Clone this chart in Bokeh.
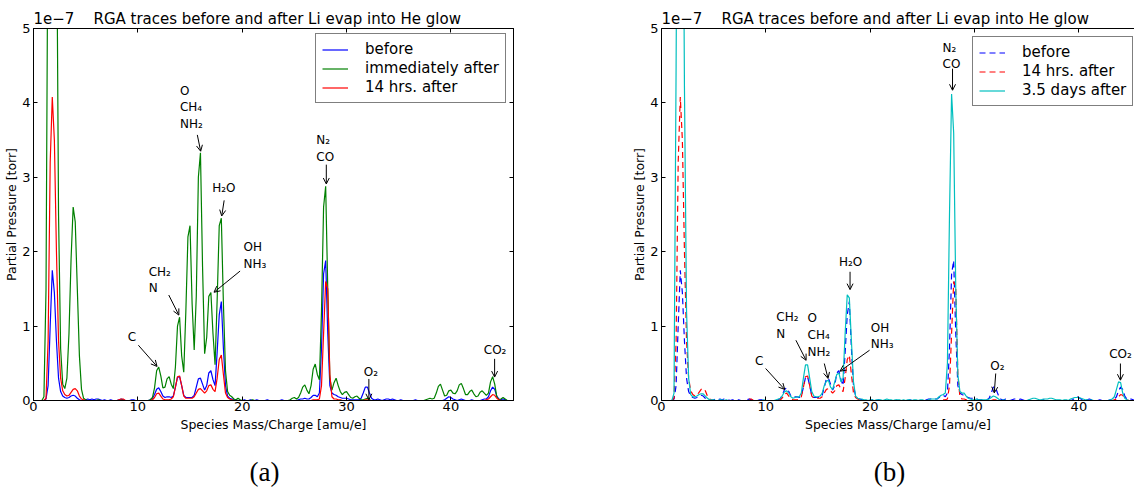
import numpy as np
from bokeh.plotting import figure
from bokeh.models import Range1d, FixedTicker, LinearAxis, Label, Arrow, OpenHead, CustomJSTickFormatter
from bokeh.layouts import row
from bokeh.embed import file_html
from bokeh.resources import INLINE

# ---------------- data (partial pressure in units of 1e-7 torr) ----------------
mass = np.round(np.arange(0, 46.0001, 0.2), 1)   # RGA scan grid [amu/e]

before = [
    0, 0, 0, 0, 0, 0, 0.02, 0.2, 1.0, 1.75,
    1.45, 0.8, 0.3, 0.12, 0.06, 0.04, 0.03, 0.04, 0.06, 0.07,
    0.06, 0.03, 0.01, 0, 0, 0.01, 0.02, 0.01, 0.02, 0.01,
    0.02, 0.02, 0.01, 0, 0.01, 0, 0, 0.01, 0, 0,
    0, 0.01, 0.02, 0.01, 0, 0, 0, 0.01, 0.01, 0,
    0, 0, 0, 0, 0, 0, 0.01, 0.03, 0.08, 0.15,
    0.17, 0.12, 0.06, 0.04, 0.05, 0.05, 0.04, 0.06, 0.18, 0.31,
    0.32, 0.2, 0.07, 0.04, 0.04, 0.04, 0.04, 0.07, 0.18, 0.29,
    0.3, 0.22, 0.14, 0.2, 0.37, 0.4, 0.28, 0.2, 0.65, 1.15,
    1.33, 0.7, 0.2, 0.06, 0.03, 0.02, 0.01, 0.01, 0, 0,
    0, 0.01, 0, 0, 0.01, 0, 0, 0.01, 0, 0,
    0, 0, 0.01, 0, 0, 0, 0, 0, 0, 0.01,
    0, 0, 0, 0, 0, 0, 0, 0.01, 0.02, 0.02,
    0.03, 0.02, 0.02, 0.04, 0.07, 0.07, 0.05, 0.1, 0.7, 1.7,
    1.88, 0.9, 0.2, 0.1, 0.08, 0.07, 0.05, 0.04, 0.03, 0.03,
    0.03, 0.02, 0.01, 0.01, 0.01, 0.01, 0.01, 0.03, 0.1, 0.18,
    0.18, 0.1, 0.03, 0.01, 0.01, 0.02, 0.01, 0, 0.01, 0.02,
    0.02, 0.01, 0.02, 0.01, 0, 0, 0.01, 0, 0, 0,
    0, 0, 0, 0.01, 0, 0, 0, 0, 0, 0,
    0, 0, 0, 0, 0, 0, 0, 0.01, 0.03, 0.05,
    0.04, 0.02, 0.01, 0, 0.01, 0.02, 0.01, 0, 0, 0,
    0.01, 0, 0, 0, 0, 0.01, 0.02, 0.02, 0.05, 0.13,
    0.18, 0.15, 0.06, 0.02, 0.01, 0.02, 0.01, 0, 0, 0,
    0,
]

immediately_after = [
    0, 0, 0, 0, 0, 0.05, 1.5, 7.0, 11.0, 12.5,
    11.0, 7.0, 2.5, 0.7, 0.22, 0.16, 0.3, 0.9, 1.9, 2.6,
    2.4, 1.5, 0.6, 0.15, 0.03, 0.01, 0, 0, 0, 0,
    0, 0.01, 0, 0, 0, 0, 0, 0, 0, 0,
    0, 0, 0.01, 0, 0, 0, 0, 0, 0, 0,
    0, 0, 0, 0, 0, 0, 0.01, 0.04, 0.17, 0.4,
    0.45, 0.33, 0.17, 0.18, 0.29, 0.32, 0.22, 0.16, 0.45, 1.0,
    1.12, 0.6, 0.38, 1.2, 2.2, 2.35, 1.3, 0.68, 1.4, 3.0,
    3.33, 1.8, 0.63, 0.85, 1.4, 1.45, 0.9, 0.48, 1.35, 2.35,
    2.45, 1.3, 0.4, 0.12, 0.07, 0.05, 0.02, 0.01, 0.03, 0.01,
    0, 0, 0, 0, 0, 0.01, 0, 0, 0, 0,
    0, 0, 0, 0, 0, 0, 0, 0, 0, 0,
    0, 0, 0, 0.01, 0.03, 0.04, 0.02, 0.04, 0.1, 0.18,
    0.21, 0.14, 0.09, 0.2, 0.42, 0.49, 0.35, 0.28, 1.2, 2.6,
    2.88, 1.5, 0.3, 0.14, 0.24, 0.3, 0.2, 0.12, 0.08, 0.11,
    0.12, 0.08, 0.04, 0.03, 0.05, 0.06, 0.03, 0.01, 0.01, 0.02,
    0.03, 0.01, 0, 0, 0, 0, 0, 0, 0, 0,
    0, 0, 0, 0, 0, 0, 0, 0, 0, 0,
    0, 0, 0, 0, 0, 0, 0, 0, 0.01, 0.02,
    0.03, 0.02, 0.03, 0.1, 0.19, 0.22, 0.14, 0.06, 0.07, 0.13,
    0.14, 0.1, 0.09, 0.13, 0.21, 0.23, 0.16, 0.08, 0.08, 0.12,
    0.14, 0.09, 0.05, 0.06, 0.11, 0.13, 0.1, 0.07, 0.1, 0.25,
    0.32, 0.22, 0.05, 0.01, 0.02, 0.04, 0.02, 0, 0, 0,
    0,
]

hrs14_after = [
    0, 0, 0, 0, 0, 0, 0.03, 0.8, 3.2, 4.08,
    3.5, 2.0, 0.8, 0.3, 0.13, 0.08, 0.06, 0.07, 0.11, 0.15,
    0.16, 0.13, 0.06, 0.02, 0.01, 0, 0, 0, 0, 0,
    0, 0, 0, 0, 0, 0, 0, 0, 0, 0,
    0, 0.01, 0.02, 0.02, 0, 0, 0, 0, 0, 0,
    0, 0, 0, 0, 0, 0, 0, 0.01, 0.04, 0.09,
    0.1, 0.06, 0.02, 0.01, 0.01, 0.01, 0.02, 0.05, 0.18, 0.32,
    0.33, 0.2, 0.06, 0.03, 0.03, 0.03, 0.03, 0.05, 0.1, 0.15,
    0.16, 0.13, 0.1, 0.13, 0.2, 0.21, 0.15, 0.12, 0.3, 0.55,
    0.61, 0.35, 0.1, 0.04, 0.02, 0.01, 0, 0, 0, 0,
    0, 0, 0, 0, 0, 0, 0, 0, 0, 0,
    0, 0, 0, 0, 0, 0, 0, 0, 0, 0,
    0, 0, 0, 0, 0, 0, 0, 0, 0, 0,
    0, 0, 0, 0, 0.01, 0.01, 0.01, 0.02, 0.2, 0.9,
    1.6, 1.5, 0.35, 0.05, 0.02, 0.02, 0.01, 0.01, 0, 0,
    0, 0, 0, 0, 0, 0, 0, 0, 0, 0.01,
    0.01, 0, 0, 0, 0, 0, 0, 0, 0, 0,
    0, 0, 0, 0, 0, 0, 0, 0, 0, 0,
    0, 0, 0, 0, 0, 0, 0, 0, 0, 0,
    0, 0, 0, 0, 0, 0, 0, 0, 0, 0,
    0, 0, 0, 0, 0, 0, 0, 0, 0, 0,
    0, 0, 0, 0, 0, 0, 0, 0.01, 0.02, 0.05,
    0.08, 0.07, 0.03, 0.01, 0, 0, 0, 0, 0, 0,
    0,
]

days35_after = [
    0, 0, 0, 0, 0, 0, 0.1, 4.5, 10.0, 12.0,
    9.0, 4.2, 1.2, 0.3, 0.08, 0.05, 0.05, 0.06, 0.08, 0.09,
    0.09, 0.06, 0.03, 0.01, 0.01, 0.01, 0, 0, 0.01, 0.01,
    0, 0.01, 0, 0, 0, 0, 0, 0, 0, 0,
    0, 0, 0, 0, 0, 0, 0, 0, 0, 0.01,
    0, 0, 0, 0, 0, 0.01, 0.02, 0.03, 0.07, 0.12,
    0.13, 0.1, 0.05, 0.03, 0.04, 0.05, 0.05, 0.1, 0.3, 0.48,
    0.48, 0.3, 0.12, 0.06, 0.05, 0.05, 0.06, 0.1, 0.2, 0.26,
    0.27, 0.18, 0.15, 0.25, 0.35, 0.37, 0.25, 0.3, 0.9, 1.42,
    1.38, 0.8, 0.25, 0.06, 0.03, 0.02, 0.02, 0.01, 0.01, 0,
    0.01, 0.01, 0, 0.01, 0.01, 0.01, 0, 0.01, 0.02, 0.01,
    0.01, 0, 0.01, 0.01, 0.01, 0, 0.01, 0, 0.01, 0.01,
    0, 0.01, 0.01, 0, 0.01, 0.01, 0, 0, 0.01, 0.02,
    0.02, 0.02, 0.02, 0.05, 0.07, 0.08, 0.1, 0.5, 2.5, 4.12,
    3.6, 1.5, 0.35, 0.12, 0.1, 0.1, 0.06, 0.03, 0.02, 0.01,
    0.01, 0.02, 0.01, 0.01, 0.01, 0.01, 0.01, 0.02, 0.04, 0.06,
    0.05, 0.03, 0.01, 0, 0.01, 0, 0, 0, 0, 0,
    0, 0, 0, 0, 0, 0, 0.01, 0.02, 0.03, 0.03,
    0.02, 0.01, 0.01, 0.02, 0.02, 0.02, 0.03, 0.03, 0.02, 0.01,
    0.01, 0.01, 0, 0.01, 0.01, 0, 0.02, 0.03, 0.04, 0.04,
    0.04, 0.03, 0.02, 0.01, 0.01, 0, 0.01, 0, 0, 0,
    0, 0, 0, 0, 0, 0.01, 0.02, 0.05, 0.15, 0.25,
    0.24, 0.1, 0.03, 0.01, 0, 0, 0, 0, 0, 0,
    0,
]

x_ticks = [0, 10, 20, 30, 40]
y_ticks = [0, 1, 2, 3, 4, 5]
title_text = "RGA traces before and after Li evap into He glow"
offset_text = "1e\u22127"
x_label = "Species Mass/Charge [amu/e]"
y_label = "Partial Pressure [torr]"
captions = ["(a)", "(b)"]

# annotations: text, text x, text y, arrow start x, y, arrow tip x, y
notes_a = [
    ("C", 9.03, 0.855, 10.05, 0.743, 11.84, 0.458),
    ("CH\u2082\nN", 11.04, 1.62, 12.96, 1.418, 13.93, 1.148),
    ("O\nCH\u2084\nNH\u2082", 14.03, 3.94, 15.7, 3.57, 16.02, 3.35),
    ("H\u2082O", 17.13, 2.85, 18.27, 2.69, 18.04, 2.48),
    ("OH\nNH\u2083", 20.13, 1.95, 19.8, 1.74, 17.3, 1.455),
    ("N\u2082\nCO", 27.1, 3.39, 28.06, 3.17, 28.06, 2.91),
    ("O\u2082", 31.66, 0.38, 32.14, 0.29, 32.14, 0.01),
    ("CO\u2082", 43.15, 0.675, 44.19, 0.56, 44.19, 0.315),
]
notes_b = [
    ("N\u2082\nCO", 26.94, 4.63, 27.89, 4.46, 27.89, 4.17),
    ("H\u2082O", 17.0, 1.86, 18.07, 1.73, 18.07, 1.49),
    ("CH\u2082\nN", 11.0, 1.005, 12.88, 0.81, 13.86, 0.54),
    ("O\nCH\u2084\nNH\u2082", 14.0, 0.878, 15.6, 0.497, 15.96, 0.296),
    ("C", 8.97, 0.528, 9.98, 0.43, 11.81, 0.148),
    ("OH\nNH\u2083", 20.05, 0.867, 19.94, 0.676, 17.11, 0.394),
    ("O\u2082", 31.5, 0.465, 32.03, 0.363, 31.89, 0.102),
    ("CO\u2082", 42.9, 0.63, 43.98, 0.497, 43.98, 0.273),
]

for s in (before, immediately_after, hrs14_after, days35_after):
    assert len(s) == len(mass), len(s)

FONT = "DejaVu Sans"
# offset text and title share one header line above the axes (left aligned at the frame)
header_text = offset_text + "\u00a0\u00a0\u00a0\u00a0" + title_text


def base_fig(x_end, frame_w, left_b, right_b, right_ticks, outline, caption, cap_x):
    p = figure(title=header_text, frame_width=frame_w, frame_height=372,
               min_border_left=left_b, min_border_right=right_b,
               min_border_top=28, min_border_bottom=87,
               x_range=Range1d(0, x_end), y_range=Range1d(0, 5),
               output_backend="svg", toolbar_location=None)
    p.title.align = "left"
    p.title.offset = 0
    p.title.standoff = 2
    p.title.text_font = FONT
    p.title.text_font_size = "15px"
    p.title.text_font_style = "normal"
    p.title.text_color = "black"
    p.xgrid.visible = False
    p.ygrid.visible = False
    p.outline_line_color = "black" if outline else None
    p.background_fill_color = "white"
    p.border_fill_color = "white"
    p.xaxis.ticker = FixedTicker(ticks=x_ticks)
    p.yaxis.ticker = FixedTicker(ticks=y_ticks)
    p.xaxis.axis_label = x_label
    p.yaxis.axis_label = y_label
    for ax in (p.xaxis[0], p.yaxis[0]):
        ax.major_tick_in = 4
        ax.major_tick_out = 0
        ax.minor_tick_line_color = None
        ax.axis_line_color = "black"
        ax.major_tick_line_color = "black"
        ax.major_label_text_font = FONT
        ax.major_label_text_font_size = "13px"
        ax.major_label_text_color = "black"
        ax.axis_label_text_font = FONT
        ax.axis_label_text_font_size = "12.5px"
        ax.axis_label_text_font_style = "normal"
        ax.axis_label_text_color = "black"
    p.xaxis.major_label_standoff = 1
    p.xaxis.axis_label_standoff = 3
    p.yaxis.major_label_standoff = 3
    p.yaxis.axis_label_standoff = 0

    # top spine with inward tick marks
    top = LinearAxis(ticker=FixedTicker(ticks=[], minor_ticks=x_ticks),
                     major_tick_in=0, major_tick_out=0,
                     minor_tick_in=4, minor_tick_out=0, minor_tick_line_color="black",
                     axis_line_color="black", major_label_standoff=0)
    p.add_layout(top, "above")
    if right_ticks:
        rt = LinearAxis(ticker=FixedTicker(ticks=[], minor_ticks=y_ticks),
                        major_tick_in=0, major_tick_out=0,
                        minor_tick_in=4, minor_tick_out=0, minor_tick_line_color="black",
                        axis_line_color="black", major_label_standoff=0)
        p.add_layout(rt, "right")
    # panel caption under the x axis label
    cap = LinearAxis(ticker=FixedTicker(ticks=[cap_x]),
                     formatter=CustomJSTickFormatter(args=dict(c=caption), code="return c;"),
                     major_tick_line_color=None, major_tick_in=0, major_tick_out=0,
                     minor_tick_line_color=None, axis_line_color=None,
                     major_label_standoff=22, major_label_text_font="Liberation Serif",
                     major_label_text_font_size="27px", major_label_text_color="black")
    p.add_layout(cap, "below")
    return p


def add_notes(p, notes):
    for t, tx, ty, x0, y0, x1, y1 in notes:
        p.add_layout(Label(x=tx, y=ty, text=t, text_align="left", text_baseline="middle",
                           text_font=FONT, text_font_size="12px", text_color="black"))
        p.add_layout(Arrow(end=OpenHead(size=6, line_width=1, line_color="black"),
                           x_start=x0, y_start=y0, x_end=x1, y_end=y1,
                           line_width=1, line_color="black"))


def style_legend(p, loc):
    lg = p.legend[0]
    lg.location = loc
    lg.margin = 0
    lg.padding = 6
    lg.spacing = 1
    lg.label_height = 15
    lg.glyph_height = 15
    lg.glyph_width = 26
    lg.label_standoff = 17
    lg.label_text_font = FONT
    lg.label_text_font_size = "15px"
    lg.label_text_color = "black"
    lg.border_line_color = "black"
    lg.border_line_width = 1
    lg.background_fill_color = "white"
    lg.background_fill_alpha = 1.0


# ---------------- panel (a) ----------------
p1 = base_fig(46, 480, 33, 8, True, True, captions[0], 22.14)
p1.line(mass, before, color="#0000ff", line_width=1.2, legend_label="before")
p1.line(mass, immediately_after, color="#008000", line_width=1.2, legend_label="immediately after")
p1.line(mass, hrs14_after, color="#ff0000", line_width=1.2, legend_label="14 hrs. after")
add_notes(p1, notes_a)
style_legend(p1, (282, 297))

# ---------------- panel (b) ----------------
x_end_b = 46 * 473 / 480
p2 = base_fig(x_end_b, 473, 140, 0, False, False, captions[1], 21.85)
p2.line(mass, before, color="#0000ff", line_width=1.2, line_dash="6 4", legend_label="before")
p2.line(mass, hrs14_after, color="#ff0000", line_width=1.2, line_dash="6 4", legend_label="14 hrs. after")
p2.line(mass, days35_after, color="#00bfbf", line_width=1.2, legend_label="3.5 days after")
add_notes(p2, notes_b)
style_legend(p2, (311, 294))

layout = row(p1, p2)
open("out.html", "w").write(file_html(layout, INLINE))
